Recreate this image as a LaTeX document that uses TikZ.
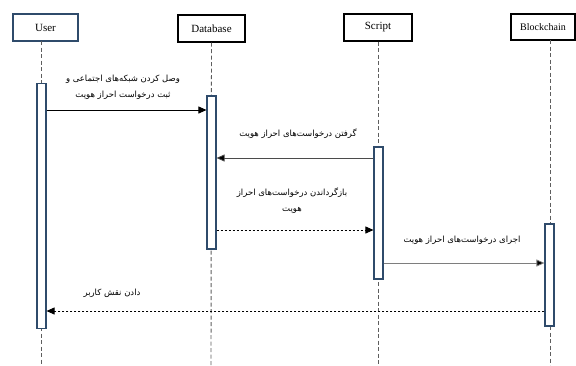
\documentclass[tikz,border=0pt]{standalone}
\usepackage{fontspec}
\setmainfont{Liberation Serif}
\newfontfamily\fa[Script=Arabic]{DejaVu Sans}
\TeXXeTstate=1
\usetikzlibrary{arrows.meta}
\definecolor{boxblue}{HTML}{2F4B6B}
\definecolor{lifegray}{HTML}{5E5E5E}
\tikzset{
  x=1pt, y=-1pt,
  actor/.style={draw=black, line width=1.2pt, fill=white, inner sep=0pt, font=\fontsize{11}{13}\selectfont},
  lifeline/.style={draw=lifegray, dashed, dash pattern=on 4pt off 2.5pt, line width=0.9pt},
  activation/.style={draw=boxblue, line width=1.1pt, fill=white, inner sep=0pt, minimum width=9pt},
  msg/.style={line width=0.8pt, -{Triangle[length=8pt,width=7pt]}},
  reply/.style={msg, dashed, dash pattern=on 2.5pt off 1.5pt},
  note/.style={font=\fa\fontsize{8.5}{15.5}\selectfont, align=center, inner sep=0pt}
}
\begin{document}
\begin{tikzpicture}
\useasboundingbox (0,0) rectangle (576,365);
\fill[white] (0,0) rectangle (576,365);

% participants
\node[actor, draw=boxblue, minimum width=65pt, minimum height=27pt] (user) at (45.5,27.5) {User};
\node[actor, minimum width=67pt, minimum height=27pt] (db) at (211.5,28.5) {Database};
\node[actor, minimum width=68pt, minimum height=27pt] (script) at (378,27.5) {Script};
\node[actor, minimum width=64pt, minimum height=26pt, font=\fontsize{10}{12}\selectfont] (chain) at (543,27) {Blockchain};

% lifelines
\coordinate (ue) at (41,365);
\coordinate (de) at (211,365);
\coordinate (se) at (378,365);
\coordinate (ce) at (550,365);
\draw[lifeline] (41,41) -- (ue);
\draw[lifeline] (db.south) -- (de);
\draw[lifeline] (script.south) -- (se);
\draw[lifeline] (550,40) -- (ce);

% activation bars
\node[activation, minimum height=245pt] (ua) at (41.5,206) {};
\node[activation, minimum height=153pt] (da) at (211.5,172.5) {};
\node[activation, minimum height=132pt] (sa) at (378.5,213) {};
\node[activation, minimum height=102pt] (ca) at (549.5,275) {};

% messages
\draw[msg, black] (ua.east |- 0,110) -- (da.west |- 0,110);
\node[note] (m1) at (123,87.5) {\beginR وصل کردن شبکه‌های اجتماعی و\endR\\\beginR ثبت درخواست احراز هویت\endR};

\draw[msg, draw=lifegray!80!black, -{Triangle[length=8pt,width=7pt,fill=black]}] (sa.west |- 0,158) -- (da.east |- 0,158);
\node[note] (m2) at (298,134) {\beginR گرفتن درخواست‌های احراز هویت\endR};

\draw[reply] (da.east |- 0,230) -- (sa.west |- 0,230);
\node[note] (m3) at (292,200.5) {\beginR بازگرداندن درخواست‌های احراز\endR\\\beginR هویت\endR};

\draw[msg, draw=lifegray!80, -{Triangle[length=8pt,width=7pt,fill=black]}] (sa.east |- 0,263) -- (ca.west |- 0,263);
\node[note] (m4) at (462,240) {\beginR اجرای درخواست‌های احراز هویت\endR};

\draw[reply] (ca.west |- 0,311) -- (ua.east |- 0,311);
\node[note] (m5) at (112,293) {\beginR دادن نقش کاربر\endR};
\end{tikzpicture}
\end{document}
